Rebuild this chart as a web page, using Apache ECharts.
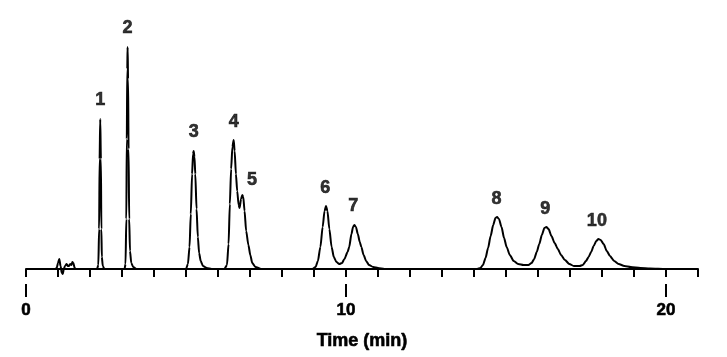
<!DOCTYPE html>
<html>
<head>
<meta charset="utf-8">
<script src="https://cdn.jsdelivr.net/npm/echarts@6/dist/echarts.min.js"></script>
<style>
html,body{margin:0;padding:0;background:#fff;}
#c{width:727px;height:357px;}
</style>
</head>
<body>
<div id="c"></div>
<script>
// Chromatogram trace: time (min) and detector signal (arbitrary units)
var traceTime = [
  0.35, 0.90, 0.96, 1.00, 1.04, 1.08, 1.12, 1.15, 1.18, 1.22, 1.27, 1.31, 1.34, 1.38, 1.42, 1.45, 1.48, 1.52, 1.56,
  2.22, 2.26, 2.285, 2.30, 2.32, 2.34, 2.355, 2.37, 2.40, 2.45,
  3.08, 3.11, 3.135, 3.15, 3.165, 3.175, 3.19, 3.205, 3.225, 3.25, 3.29, 3.35, 3.45,
  5.00, 5.06, 5.11, 5.15, 5.19, 5.22, 5.24, 5.265, 5.29, 5.33, 5.37, 5.41, 5.46, 5.53, 5.65, 5.80,
  6.20, 6.28, 6.33, 6.37, 6.41, 6.45, 6.49, 6.52, 6.56, 6.60, 6.645, 6.675, 6.72, 6.76, 6.79, 6.83, 6.88, 6.95, 7.01, 7.07, 7.17, 7.35,
  8.95, 9.05, 9.12, 9.20, 9.27, 9.33, 9.375, 9.42, 9.48, 9.55, 9.62, 9.70, 9.79, 9.875,
  9.95, 10.05, 10.10, 10.17, 10.22, 10.26, 10.31, 10.37, 10.43, 10.48, 10.55, 10.63, 10.72, 10.85, 11.00, 11.20,
  14.10, 14.20, 14.28, 14.36, 14.44, 14.52, 14.60, 14.67, 14.72, 14.78, 14.86, 14.94, 15.02, 15.12, 15.24, 15.38, 15.55, 15.70,
  15.80, 15.88, 15.96, 16.04, 16.12, 16.20, 16.26, 16.33, 16.42, 16.52, 16.62, 16.72, 16.84, 16.98, 17.12, 17.30,
  17.40, 17.50, 17.58, 17.66, 17.74, 17.82, 17.89, 17.96, 18.05, 18.15, 18.25, 18.38, 18.52, 18.70, 18.90, 19.20, 19.50, 20.00, 21.00
];
var traceSignal = [
  0, 0, 1, 6, 10, 3, -4, -5, 0, 3, 5, 3, 3, 5, 4, 7, 6, 1, 0,
  0, 4, 40, 110, 150, 110, 40, 12, 3, 0,
  0, 5, 50, 130, 200, 222, 190, 120, 50, 18, 6, 2, 0,
  0, 5, 22, 55, 95, 115, 118, 112, 95, 60, 32, 16, 8, 3, 1, 0,
  0, 4, 25, 65, 100, 122, 129, 118, 95, 78, 64, 61, 70, 74, 72, 58, 38, 24, 14, 6, 2, 0,
  0, 2, 8, 22, 42, 58, 63, 58, 40, 22, 12, 7, 5, 6,
  10, 17, 22, 35, 42, 44, 42, 35, 27, 22, 14, 8, 4, 2, 1, 0,
  0, 1, 4, 11, 21, 33, 44, 51, 52, 50, 42, 31, 22, 14, 8, 5, 4, 4,
  6, 10, 17, 25, 34, 41, 42, 40, 33, 26, 20, 14, 9, 5, 3, 3,
  4, 8, 12, 17, 23, 28, 30, 29, 25, 18, 13, 8, 5, 3, 2, 1, 0.5, 0, 0
];
// Peak labels and where they sit (time, signal)
var peakNames  = ['1', '2', '3', '4', '5', '6', '7', '8', '9', '10'];
var peakLabelTime   = [2.32, 3.175, 5.24, 6.49, 7.06, 9.35, 10.23, 14.70, 16.23, 17.84];
var peakLabelSignal = [169, 241, 137, 147, 89, 81, 63, 70, 60, 48];
// Axis
var majorTicks = [0, 10, 20];
var xMin = 0, xMax = 21;

var traceData = traceTime.map(function (t, i) { return [t, traceSignal[i]]; });
var labelData = peakNames.map(function (n, i) { return { name: n, value: [peakLabelTime[i], peakLabelSignal[i]] }; });

var FONT = '"Liberation Sans", Arial, sans-serif';
var heavy = { color: '#000', fontFamily: FONT, fontWeight: 'bold', textBorderColor: '#000', textBorderWidth: 0.6 };
function ts(extra) { var o = {}; for (var k in heavy) o[k] = heavy[k]; for (var k2 in extra) o[k2] = extra[k2]; return o; }

var chart = echarts.init(document.getElementById('c'), null, { renderer: 'canvas' });
chart.setOption({
  animation: false,
  backgroundColor: '#ffffff',
  grid: { left: 26, right: 29, top: 20, bottom: 73, containLabel: false },
  xAxis: [
    {
      type: 'value', min: xMin, max: xMax, interval: 1,
      position: 'bottom',
      axisLine: { show: true, lineStyle: { color: '#000', width: 2 } },
      axisTick: { show: true, length: 8, lineStyle: { color: '#000', width: 2 } },
      splitLine: { show: false },
      axisLabel: ts({ show: true, customValues: majorTicks, margin: 18, fontSize: 17 }),
      name: 'Time (min)', nameLocation: 'middle', nameGap: 48,
      nameTextStyle: ts({ fontSize: 18 })
    },
    {
      type: 'value', min: xMin, max: xMax,
      position: 'bottom',
      axisLine: { show: false },
      axisTick: { show: true, customValues: majorTicks, length: 13, lineStyle: { color: '#000', width: 2 } },
      axisLabel: { show: false },
      splitLine: { show: false }
    }
  ],
  yAxis: {
    type: 'value', min: -15, max: 249, show: false,
    splitLine: { show: false }
  },
  series: [
    {
      type: 'line', xAxisIndex: 0, data: traceData,
      showSymbol: false, smooth: 0.25, smoothMonotone: 'x',
      lineStyle: { color: '#000', width: 2 },
      silent: true
    },
    {
      type: 'scatter', xAxisIndex: 0, data: labelData,
      symbolSize: 0,
      label: ts({ show: true, position: 'inside', formatter: '{b}', fontSize: 18 }),
      silent: true
    }
  ]
});
</script>
</body>
</html>
